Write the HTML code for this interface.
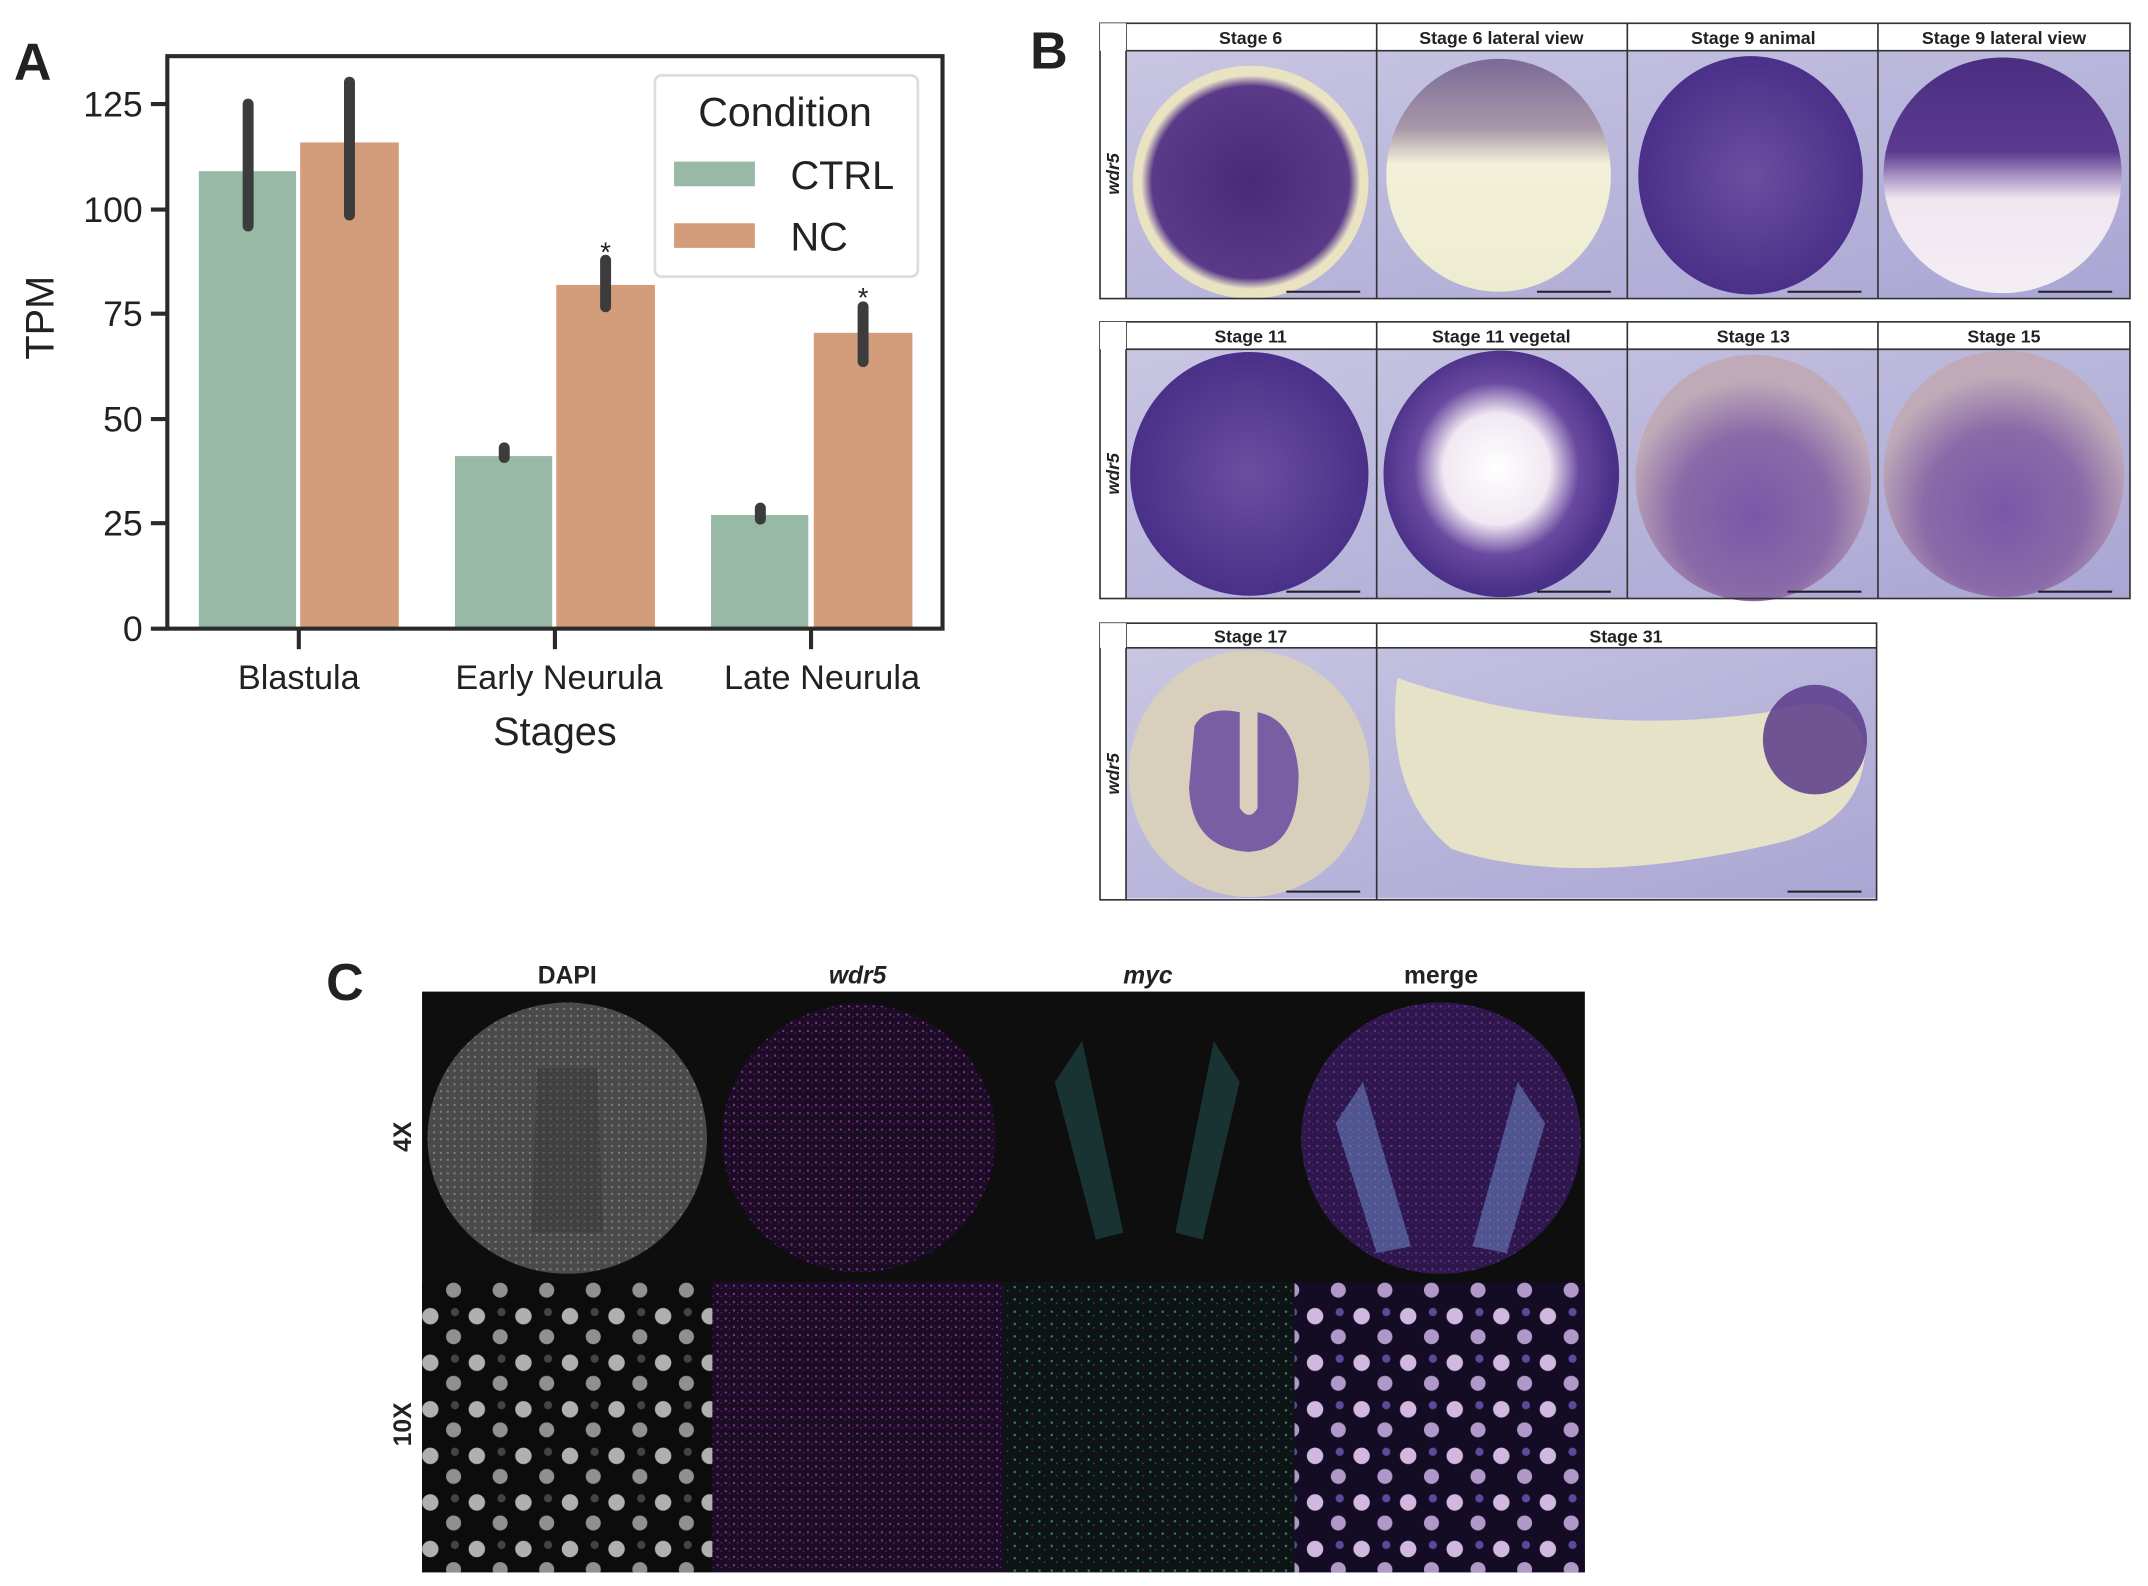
<!DOCTYPE html>
<html><head><meta charset="utf-8"><style>html,body{margin:0;padding:0;background:#fff}svg{display:block}</style></head>
<body>
<svg width="2148" height="1586" viewBox="0 0 1568 1158" xmlns="http://www.w3.org/2000/svg" font-family="Liberation Sans, Arial, sans-serif">
<defs>
<radialGradient id="dk" cx="50%" cy="50%" r="50%"><stop offset="0" stop-color="#4a2a78"/><stop offset="0.9" stop-color="#5a3a88"/><stop offset="1" stop-color="#e8e2c8"/></radialGradient>
<radialGradient id="pur" cx="50%" cy="50%" r="50%"><stop offset="0" stop-color="#6a4fa0"/><stop offset="1" stop-color="#4a3088"/></radialGradient>
<radialGradient id="veg" cx="48%" cy="48%" r="50%"><stop offset="0" stop-color="#fff"/><stop offset="0.45" stop-color="#f0e8f2"/><stop offset="0.7" stop-color="#6a4aa0"/><stop offset="1" stop-color="#4a3088"/></radialGradient>
<radialGradient id="s13" cx="50%" cy="65%" r="55%"><stop offset="0" stop-color="#7a58a8"/><stop offset="0.6" stop-color="#8a6aa8"/><stop offset="1" stop-color="#c0aab8"/></radialGradient>
<linearGradient id="lat6" x1="0" y1="0" x2="0" y2="1"><stop offset="0" stop-color="#7a6a98"/><stop offset="0.3" stop-color="#a898a8"/><stop offset="0.45" stop-color="#f2f0d8"/><stop offset="1" stop-color="#eeecd0"/></linearGradient>
<linearGradient id="lat9" x1="0" y1="0" x2="0" y2="1"><stop offset="0" stop-color="#4a2e80"/><stop offset="0.4" stop-color="#5a3a90"/><stop offset="0.6" stop-color="#f0e6f0"/><stop offset="1" stop-color="#f4eef4"/></linearGradient>
<linearGradient id="bgp" x1="0" y1="0" x2="1" y2="1"><stop offset="0" stop-color="#c8c6e2"/><stop offset="1" stop-color="#aaa6d4"/></linearGradient>
<pattern id="nuc" width="34" height="34" patternUnits="userSpaceOnUse"><rect width="34" height="34" fill="#0c0c0c"/><circle cx="8" cy="9" r="6" fill="#b0b0b0"/><circle cx="25" cy="24" r="5.5" fill="#909090"/><circle cx="26" cy="6" r="3" fill="#444"/></pattern>
<pattern id="nucm" width="34" height="34" patternUnits="userSpaceOnUse"><rect width="34" height="34" fill="#140c24"/><circle cx="8" cy="9" r="6" fill="#d0b8e0"/><circle cx="25" cy="24" r="5.5" fill="#b098c8"/><circle cx="26" cy="6" r="3" fill="#5a4a9a"/></pattern>
<pattern id="mag" width="6" height="6" patternUnits="userSpaceOnUse"><rect width="6" height="6" fill="#1a0c22"/><rect x="1" y="2" width="1.5" height="1.5" fill="#8a2aa0"/><rect x="4" y="4" width="1" height="1" fill="#6a2080"/></pattern>
<pattern id="cy" width="9" height="9" patternUnits="userSpaceOnUse"><rect width="9" height="9" fill="#0e1414"/><rect x="2" y="3" width="1.5" height="1.5" fill="#3a8a8a"/><rect x="6" y="6" width="1" height="1" fill="#2a6060"/></pattern>
<pattern id="gr" width="5" height="5" patternUnits="userSpaceOnUse"><rect width="5" height="5" fill="#555"/><rect x="1" y="1" width="1.5" height="1.5" fill="#909090"/></pattern>
</defs>

<!-- Panel A -->
<text x="10" y="58" font-size="38" font-weight="bold" fill="#222">A</text>
<g>
<rect x="145" y="125" width="71" height="334" fill="#97b9a5"/>
<rect x="219" y="104" width="72" height="355" fill="#d39c7a"/>
<rect x="332" y="333" width="71" height="126" fill="#97b9a5"/>
<rect x="406" y="208" width="72" height="251" fill="#d39c7a"/>
<rect x="519" y="376" width="71" height="83" fill="#97b9a5"/>
<rect x="594" y="243" width="72" height="216" fill="#d39c7a"/>
<g stroke="#3c3c3c" stroke-width="8" stroke-linecap="round">
<line x1="181" y1="76" x2="181" y2="165"/>
<line x1="255" y1="60" x2="255" y2="157"/>
<line x1="368" y1="327" x2="368" y2="334"/>
<line x1="442" y1="190" x2="442" y2="224"/>
<line x1="555" y1="371" x2="555" y2="379"/>
<line x1="630" y1="224" x2="630" y2="264"/>
</g>
<text x="442" y="191" font-size="20" text-anchor="middle" fill="#222">*</text>
<text x="630" y="224" font-size="20" text-anchor="middle" fill="#222">*</text>
<rect x="122" y="41" width="566" height="418" fill="none" stroke="#2a2a2a" stroke-width="3"/>
<g stroke="#2a2a2a" stroke-width="3">
<line x1="110" y1="459" x2="122" y2="459"/><line x1="110" y1="382" x2="122" y2="382"/><line x1="110" y1="306" x2="122" y2="306"/><line x1="110" y1="229" x2="122" y2="229"/><line x1="110" y1="153" x2="122" y2="153"/><line x1="110" y1="76" x2="122" y2="76"/>
<line x1="218" y1="459" x2="218" y2="474"/><line x1="405" y1="459" x2="405" y2="474"/><line x1="592" y1="459" x2="592" y2="474"/>
</g>
<g font-size="26" fill="#222" text-anchor="end">
<text x="104" y="468">0</text><text x="104" y="391">25</text><text x="104" y="315">50</text><text x="104" y="238">75</text><text x="104" y="162">100</text><text x="104" y="85">125</text>
</g>
<g font-size="25" fill="#222" text-anchor="middle">
<text x="218" y="503">Blastula</text><text x="408" y="503">Early Neurula</text><text x="600" y="503">Late Neurula</text>
</g>
<text x="405" y="544" font-size="29" text-anchor="middle" fill="#222">Stages</text>
<text transform="translate(39,232) rotate(-90)" font-size="29" text-anchor="middle" fill="#222">TPM</text>
<rect x="478" y="55" width="192" height="147" rx="5" fill="#fff" stroke="#ddd" stroke-width="2"/>
<text x="573" y="92" font-size="30" text-anchor="middle" fill="#222">Condition</text>
<rect x="492" y="118" width="59" height="18" fill="#97b9a5"/>
<rect x="492" y="163" width="59" height="18" fill="#d39c7a"/>
<text x="577" y="138" font-size="29" fill="#222">CTRL</text>
<text x="577" y="183" font-size="29" fill="#222">NC</text>
</g>

<!-- Panel B -->
<text x="752" y="50" font-size="38" font-weight="bold" fill="#222">B</text>
<g font-size="13" font-weight="bold" text-anchor="middle" fill="#222">
<rect x="822" y="37" width="733" height="181" fill="url(#bgp)"/>
<ellipse cx="913" cy="133" rx="86" ry="85" fill="#e9e3c2"/>
<ellipse cx="913" cy="133" rx="80" ry="78" fill="url(#dk)"/>
<ellipse cx="1094" cy="128" rx="82" ry="85" fill="url(#lat6)"/>
<ellipse cx="1278" cy="128" rx="82" ry="87" fill="url(#pur)"/>
<ellipse cx="1462" cy="128" rx="87" ry="86" fill="url(#lat9)"/>
<rect x="822" y="255" width="733" height="182" fill="url(#bgp)"/>
<ellipse cx="912" cy="346" rx="87" ry="89" fill="url(#pur)"/>
<ellipse cx="1096" cy="346" rx="86" ry="90" fill="url(#veg)"/>
<ellipse cx="1280" cy="349" rx="86" ry="90" fill="url(#s13)"/>
<ellipse cx="1463" cy="346" rx="88" ry="90" fill="url(#s13)"/>
<rect x="822" y="473" width="548" height="183" fill="url(#bgp)"/>
<ellipse cx="912" cy="565" rx="88" ry="90" fill="#d8d0bc"/>
<path d="M872 530 Q880 515 905 520 L905 590 Q912 600 918 590 L918 520 Q945 525 948 565 Q948 620 912 622 Q870 620 868 575 Z" fill="#6a4aa0" opacity="0.85"/>
<path d="M1020 495 Q1150 540 1290 520 Q1350 500 1362 545 Q1360 600 1300 615 Q1150 650 1060 620 Q1010 580 1020 495 Z" fill="#e6e2c8"/>
<ellipse cx="1325" cy="540" rx="38" ry="40" fill="#5a3a88" opacity="0.85"/>
<g fill="none" stroke="#333" stroke-width="1.2">
<rect x="803" y="17" width="752" height="201"/><line x1="822" y1="17" x2="822" y2="218"/><line x1="822" y1="37" x2="1555" y2="37"/>
<line x1="1005" y1="17" x2="1005" y2="218"/><line x1="1188" y1="17" x2="1188" y2="218"/><line x1="1371" y1="17" x2="1371" y2="218"/>
<rect x="803" y="235" width="752" height="202"/><line x1="822" y1="235" x2="822" y2="437"/><line x1="822" y1="255" x2="1555" y2="255"/>
<line x1="1005" y1="235" x2="1005" y2="437"/><line x1="1188" y1="235" x2="1188" y2="437"/><line x1="1371" y1="235" x2="1371" y2="437"/>
<rect x="803" y="455" width="567" height="202"/><line x1="822" y1="455" x2="822" y2="657"/><line x1="822" y1="473" x2="1370" y2="473"/>
<line x1="1005" y1="455" x2="1005" y2="657"/>
</g>
<rect x="803" y="17" width="19" height="20" fill="#fff"/><rect x="803" y="235" width="19" height="20" fill="#fff"/><rect x="803" y="455" width="19" height="18" fill="#fff"/>
<g stroke="#222" stroke-width="1.5">
<line x1="939" y1="213" x2="993" y2="213"/><line x1="1122" y1="213" x2="1176" y2="213"/><line x1="1305" y1="213" x2="1359" y2="213"/><line x1="1488" y1="213" x2="1542" y2="213"/>
<line x1="939" y1="432" x2="993" y2="432"/><line x1="1122" y1="432" x2="1176" y2="432"/><line x1="1305" y1="432" x2="1359" y2="432"/><line x1="1488" y1="432" x2="1542" y2="432"/>
<line x1="939" y1="651" x2="993" y2="651"/><line x1="1305" y1="651" x2="1359" y2="651"/>
</g>
<text x="913" y="32">Stage 6</text><text x="1096" y="32">Stage 6 lateral view</text><text x="1280" y="32">Stage 9 animal</text><text x="1463" y="32">Stage 9 lateral view</text>
<text x="913" y="250">Stage 11</text><text x="1096" y="250">Stage 11 vegetal</text><text x="1280" y="250">Stage 13</text><text x="1463" y="250">Stage 15</text>
<text x="913" y="469">Stage 17</text><text x="1187" y="469">Stage 31</text>
<g font-style="italic"><text transform="translate(817,127) rotate(-90)">wdr5</text><text transform="translate(817,346) rotate(-90)">wdr5</text><text transform="translate(817,565) rotate(-90)">wdr5</text></g>
</g>

<!-- Panel C -->
<text x="238" y="730" font-size="38" font-weight="bold" fill="#222">C</text>
<g font-size="18" font-weight="bold" fill="#222" text-anchor="middle">
<text x="414" y="718">DAPI</text><text x="626" y="718" font-style="italic">wdr5</text><text x="838" y="718" font-style="italic">myc</text><text x="1052" y="718">merge</text>
<text transform="translate(300,830) rotate(-90)">4X</text><text transform="translate(300,1040) rotate(-90)">10X</text>
</g>
<rect x="308" y="724" width="849" height="424" fill="#0e0e0e"/>
<ellipse cx="414" cy="831" rx="102" ry="99" fill="url(#gr)" opacity="0.85"/>
<path d="M392 780 L436 780 L440 900 L388 900 Z" fill="#333" opacity="0.4"/>
<ellipse cx="627" cy="831" rx="100" ry="98" fill="url(#mag)"/>
<path d="M790 760 L820 900 L800 905 L770 790 Z" fill="#2a6a6a" opacity="0.4"/>
<path d="M886 760 L858 900 L878 905 L905 790 Z" fill="#2a6a6a" opacity="0.4"/>
<ellipse cx="1052" cy="831" rx="102" ry="99" fill="#4a2a8a"/>
<ellipse cx="1052" cy="831" rx="102" ry="99" fill="url(#mag)" opacity="0.6"/>
<path d="M995 790 L1030 910 L1005 915 L975 820 Z" fill="#7aa0e0" opacity="0.45"/>
<path d="M1108 790 L1075 910 L1100 915 L1128 820 Z" fill="#7aa0e0" opacity="0.45"/>
<rect x="308" y="936" width="212" height="212" fill="url(#nuc)"/>
<rect x="520" y="936" width="213" height="212" fill="url(#mag)"/>
<rect x="733" y="936" width="212" height="212" fill="url(#cy)"/>
<rect x="945" y="936" width="212" height="212" fill="url(#nucm)"/>
</svg>
</body></html>
